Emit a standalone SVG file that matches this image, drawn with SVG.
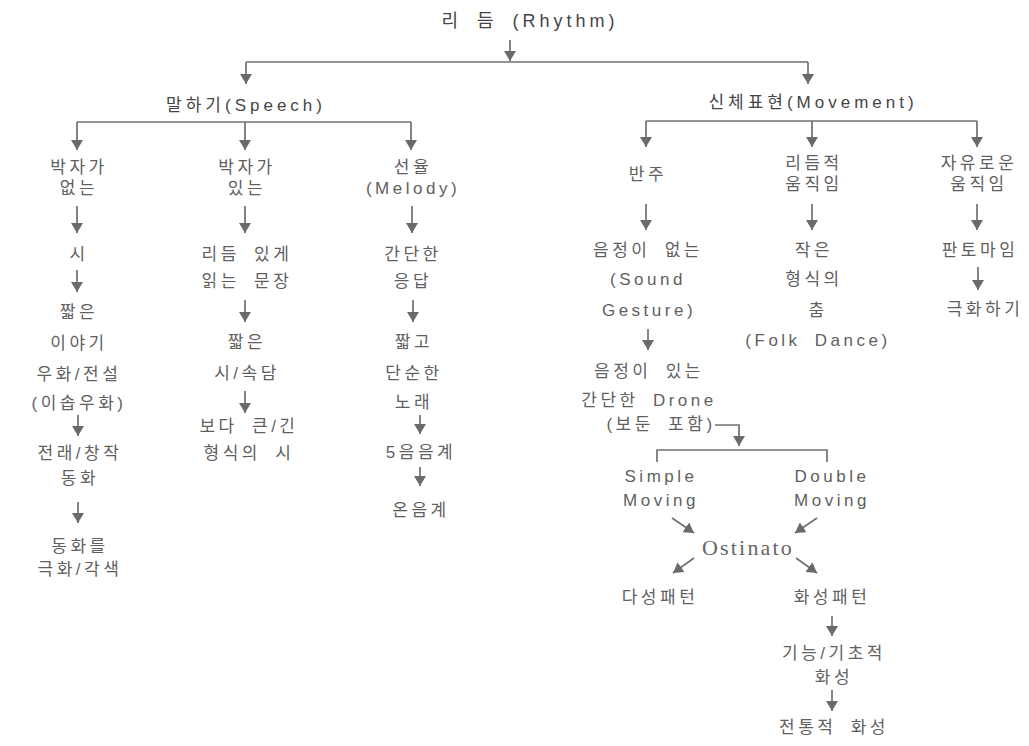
<svg xmlns="http://www.w3.org/2000/svg" width="1029" height="746" viewBox="0 0 1029 746">
<defs>
<style>
text{font-family:"Liberation Sans","Noto Sans CJK KR",sans-serif;font-size:17px;fill:#5f5f5f;text-anchor:middle;letter-spacing:3.5px;word-spacing:6px}
.h{fill:#454545;font-size:17px;letter-spacing:4px}
.ttl{fill:#454545;font-size:18px;letter-spacing:4px}
.o{font-family:"Liberation Serif","Noto Serif",serif;font-size:22px;letter-spacing:2.2px;fill:#666}
.c line,.c path{stroke:#707070;stroke-width:1.7;fill:none}
.a{marker-end:url(#ah)}
</style>
<marker id="ah" viewBox="0 0 10 12" refX="10" refY="6" markerWidth="10" markerHeight="12" markerUnits="userSpaceOnUse" orient="auto"><path d="M0,0 L10,6 L0,12 z" fill="#6a6a6a"/></marker>
</defs>
<rect width="1029" height="746" fill="#ffffff"/>
<g class="c" id="connectors">
<line class="a" x1="510" y1="40" x2="510" y2="61"/>
<line x1="246" y1="62" x2="808" y2="62"/>
<line class="a" x1="246" y1="62" x2="246" y2="84"/>
<line class="a" x1="808" y1="62" x2="808" y2="84"/>
<line x1="77" y1="122" x2="411" y2="122"/>
<line class="a" x1="77" y1="122" x2="77" y2="150"/>
<line class="a" x1="245" y1="122" x2="245" y2="150"/>
<line class="a" x1="411" y1="122" x2="411" y2="150"/>
<line x1="646" y1="121" x2="977" y2="121"/>
<line class="a" x1="646" y1="121" x2="646" y2="147"/>
<line class="a" x1="812" y1="121" x2="812" y2="147"/>
<line class="a" x1="977" y1="121" x2="977" y2="147"/>
<line class="a" x1="77" y1="206" x2="77" y2="233"/>
<line class="a" x1="77" y1="270" x2="77" y2="292"/>
<line class="a" x1="78" y1="415" x2="78" y2="436"/>
<line class="a" x1="78" y1="502" x2="78" y2="523"/>
<line class="a" x1="245" y1="206" x2="245" y2="233"/>
<line class="a" x1="245" y1="300" x2="245" y2="322"/>
<line class="a" x1="245" y1="391" x2="245" y2="413"/>
<line class="a" x1="412" y1="206" x2="412" y2="233"/>
<line class="a" x1="413" y1="300" x2="413" y2="322"/>
<line class="a" x1="420" y1="415" x2="420" y2="434"/>
<line class="a" x1="420" y1="467" x2="420" y2="486"/>
<line class="a" x1="646" y1="204" x2="646" y2="230"/>
<line class="a" x1="648" y1="329" x2="648" y2="350"/>
<path class="a" d="M715,425 H739 V446"/>
<path d="M657,462 V450 H827 V462"/>
<line class="a" x1="672" y1="518" x2="694" y2="533"/>
<line class="a" x1="817" y1="518" x2="795" y2="533"/>
<line class="a" x1="694" y1="558" x2="673" y2="573"/>
<line class="a" x1="796" y1="558" x2="817" y2="573"/>
<line class="a" x1="832" y1="616" x2="832" y2="636"/>
<line class="a" x1="832" y1="690" x2="832" y2="711"/>
<line class="a" x1="812" y1="204" x2="812" y2="230"/>
<line class="a" x1="977" y1="204" x2="977" y2="230"/>
<line class="a" x1="978" y1="267" x2="978" y2="290"/>
</g>
<g id="n-rhythm"><text class="ttl" x="530" y="27">리 듬 (Rhythm)</text></g>
<g id="n-speech"><text class="h" x="246" y="111">말하기(Speech)</text></g>
<g id="n-movement"><text class="h" x="813" y="108">신체표현(Movement)</text></g>
<g id="n-nobeat"><text x="79" y="173">박자가</text><text x="79" y="194">없는</text></g>
<g id="n-poem"><text x="79" y="260">시</text></g>
<g id="n-story"><text x="79" y="318">짧은</text><text x="79" y="349">이야기</text><text x="79" y="380">우화/전설</text><text x="79" y="409">(이솝우화)</text></g>
<g id="n-tale"><text x="80" y="459">전래/창작</text><text x="80" y="484">동화</text></g>
<g id="n-drama"><text x="80" y="552">동화를</text><text x="80" y="575">극화/각색</text></g>
<g id="n-beat"><text x="247" y="173">박자가</text><text x="247" y="194">있는</text></g>
<g id="n-sentence"><text x="247" y="260">리듬 있게</text><text x="247" y="287">읽는 문장</text></g>
<g id="n-short"><text x="247" y="348">짧은</text><text x="247" y="379">시/속담</text></g>
<g id="n-long"><text x="249" y="432">보다 큰/긴</text><text x="249" y="459">형식의 시</text></g>
<g id="n-melody"><text x="413" y="173">선율</text><text x="413" y="194">(Melody)</text></g>
<g id="n-response"><text x="413" y="260">간단한</text><text x="413" y="287">응답</text></g>
<g id="n-song"><text x="414" y="348">짧고</text><text x="414" y="379">단순한</text><text x="414" y="408">노래</text></g>
<g id="n-penta"><text x="421" y="458">5음음계</text></g>
<g id="n-diatonic"><text x="421" y="516">온음계</text></g>
<g id="n-accomp"><text x="648" y="180">반주</text></g>
<g id="n-unpitched"><text x="648" y="256">음정이 없는</text><text x="648" y="285">(Sound</text><text x="649" y="316">Gesture)</text></g>
<g id="n-pitched"><text x="649" y="377">음정이 있는</text><text x="649" y="406">간단한 Drone</text><text x="661" y="430">(보둔 포함)</text></g>
<g id="n-simple"><text x="661" y="482">Simple</text><text x="661" y="506">Moving</text></g>
<g id="n-double"><text x="832" y="482">Double</text><text x="832" y="506">Moving</text></g>
<g id="n-ostinato"><text class="o" x="748" y="555">Ostinato</text></g>
<g id="n-poly"><text x="660" y="603">다성패턴</text></g>
<g id="n-harm"><text x="832" y="603">화성패턴</text></g>
<g id="n-func"><text x="834" y="659">기능/기초적</text><text x="834" y="683">화성</text></g>
<g id="n-trad"><text x="834" y="733">전통적 화성</text></g>
<g id="n-rhythmic"><text x="814" y="169">리듬적</text><text x="814" y="190">움직임</text></g>
<g id="n-folk"><text x="814" y="256">작은</text><text x="814" y="285">형식의</text><text x="818" y="316">춤</text><text x="818" y="346">(Folk Dance)</text></g>
<g id="n-free"><text x="979" y="169">자유로운</text><text x="979" y="190">움직임</text></g>
<g id="n-mime"><text x="980" y="256">판토마임</text></g>
<g id="n-dramatize"><text x="985" y="315">극화하기</text></g>
</svg>
